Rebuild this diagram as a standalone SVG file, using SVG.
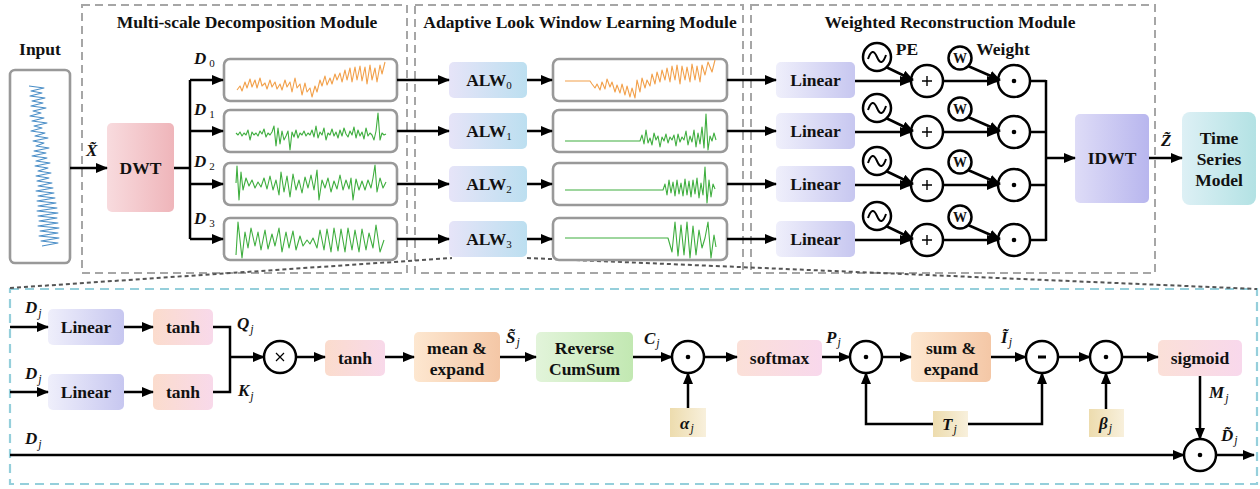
<svg xmlns="http://www.w3.org/2000/svg" width="1260" height="489" viewBox="0 0 1260 489">
<defs>
<style>
text{font-family:"Liberation Serif","Times New Roman",serif;fill:#111}
.b{font-weight:bold;font-size:17.5px;text-anchor:middle}
.t{font-weight:bold;font-size:17.5px;text-anchor:middle}
.lb{font-weight:bold;font-style:italic;font-size:17px}
.sub{font-style:italic;font-weight:normal;font-size:12px}
.sn{font-weight:normal;font-style:normal;font-size:11px}
.ln{fill:none;stroke:#000;stroke-width:2.5}
.ar{fill:none;stroke:#000;stroke-width:2.5;marker-end:url(#ah)}
.sig{fill:#fff;stroke:#999;stroke-width:2.6}
.mod{fill:none;stroke:#a6a6a6;stroke-width:2;stroke-dasharray:8 5}
.cir{fill:#fff;stroke:#000;stroke-width:2.5}
.wo{fill:none;stroke:#f2a04a;stroke-width:1.1;stroke-linejoin:round}
.wg{fill:none;stroke:#3fae3f;stroke-width:1.1;stroke-linejoin:round}
.wb{fill:none;stroke:#4a8ec7;stroke-width:1.1;stroke-linejoin:round}
</style>
<marker id="ah" markerUnits="userSpaceOnUse" markerWidth="12" markerHeight="10" refX="11" refY="5" orient="auto"><path d="M0,0 L12,5 L0,10 z" fill="#000"/></marker>
<linearGradient id="gDWT"><stop offset="0" stop-color="#f8dbde"/><stop offset="1" stop-color="#efb5ba"/></linearGradient>
<linearGradient id="gALW"><stop offset="0" stop-color="#e6e4f8"/><stop offset="1" stop-color="#bcdff0"/></linearGradient>
<linearGradient id="gLin"><stop offset="0" stop-color="#efeffb"/><stop offset="1" stop-color="#c7c7f0"/></linearGradient>
<linearGradient id="gIDWT"><stop offset="0" stop-color="#dedcf7"/><stop offset="1" stop-color="#b8b6ee"/></linearGradient>
<linearGradient id="gTSM"><stop offset="0" stop-color="#ddf0f5"/><stop offset="1" stop-color="#b3e2e4"/></linearGradient>
<linearGradient id="gTanh"><stop offset="0" stop-color="#fbdccd"/><stop offset="1" stop-color="#f8d9ea"/></linearGradient>
<linearGradient id="gMean"><stop offset="0" stop-color="#fde7d0"/><stop offset="1" stop-color="#f4c7a6"/></linearGradient>
<linearGradient id="gRCS"><stop offset="0" stop-color="#e2f4da"/><stop offset="1" stop-color="#c2e8b2"/></linearGradient>
<linearGradient id="gSoft"><stop offset="0" stop-color="#fbe0d8"/><stop offset="1" stop-color="#f8d8ec"/></linearGradient>
<linearGradient id="gBei"><stop offset="0" stop-color="#eddcae"/><stop offset="1" stop-color="#f8f0dc"/></linearGradient>
</defs>
<rect width="1260" height="489" fill="#fff"/>

<g id="modules">
<rect class="mod" x="82" y="5" width="325" height="268"/>
<rect class="mod" x="415" y="5" width="328" height="268"/>
<rect class="mod" x="751" y="5" width="404" height="268"/>
<text class="t" x="247" y="28">Multi-scale Decomposition Module</text>
<text class="t" x="580" y="28">Adaptive Look Window Learning Module</text>
<text class="t" x="950" y="28">Weighted Reconstruction Module</text>
<rect x="10" y="289" width="1247" height="195" fill="none" stroke="#95cfdb" stroke-width="2.2" stroke-dasharray="9 6"/>
<path d="M10,288 L452,258 M527,258 L1257,289" fill="none" stroke="#555" stroke-width="2" stroke-dasharray="4 3"/>
</g>

<g id="input">
<text class="b" x="40" y="55">Input</text>
<rect class="sig" x="10" y="70" width="60" height="193" rx="5"/>
<polyline class="wb" points="29,86 44,88 31,91 42,93 30,96 45,98 32,101 43,103 31,106 46,108 33,111 41,113 30,116 44,118 32,121 47,123 34,126 42,128 31,131 45,133 35,136 48,138 33,141 44,143 36,146 49,148 34,151 46,153 32,156 47,158 36,161 50,163 35,166 48,168 38,171 51,173 36,176 49,178 37,181 52,183 38,186 53,188 36,191 54,193 38,196 55,198 37,201 56,203 38,206 57,208 37,211 58,213 38,216 57,218 39,221 58,223 38,226 59,228 40,231 58,233 39,236 59,238 41,241 58,243 42,246"/>
</g>

<g id="dwt">
<rect x="107" y="123" width="67" height="89" rx="5" fill="url(#gDWT)"/>
<text class="b" x="140.5" y="174">DWT</text>
</g>

<g id="decomp-signals">
<rect class="sig" x="224" y="59" width="173" height="42" rx="6"/>
<rect class="sig" x="224" y="110" width="173" height="42" rx="6"/>
<rect class="sig" x="224" y="163" width="173" height="42" rx="6"/>
<rect class="sig" x="224" y="218" width="173" height="42" rx="6"/>
<polyline class="wo" points="237,90 240,86 242,91 245,82 247,88 250,79 252,87 255,80 257,88 260,78 262,86 265,83 267,89 270,80 272,87 275,82 277,89 280,84 282,90 285,80 287,87 290,82 292,92 295,78 297,88 300,84 302,95 305,83 307,92 310,88 312,97 315,86 317,92 320,80 322,86 325,76 327,85 330,78 332,84 335,74 337,80 340,73 342,82 345,70 347,80 350,68 352,82 355,67 357,80 360,66 362,81 365,67 367,84 370,65 372,80 375,68 377,82 380,65 382,74 385,62"/>
<polyline class="wg" points="236,133 238,135 240,132 242,136 244,133 246,135 248,130 250,140 252,132 254,135 256,133 258,136 260,131 262,134 264,129 266,137 268,133 270,135 272,132 274,126 276,146 278,128 280,144 282,131 284,140 286,136 288,131 290,150 292,132 294,137 296,130 298,138 300,133 302,135 304,131 306,136 308,133 310,135 312,130 314,137 316,126 318,138 320,132 322,135 324,128 326,140 328,133 330,135 332,129 334,136 336,132 338,138 340,130 342,136 344,128 346,134 348,137 350,131 352,135 354,127 356,138 358,130 360,136 362,132 364,139 366,128 368,136 370,133 372,135 374,140 376,131 378,113 380,140 382,133 384,135 386,134"/>
<polyline class="wg" points="236,183 237,166 239,200 241,172 243,190 246,178 249,186 252,180 255,188 258,182 261,187 264,178 267,189 270,176 273,190 276,180 279,195 281,172 284,192 287,176 290,197 293,174 296,190 299,180 302,193 305,177 308,188 311,175 314,190 317,170 319,200 322,180 325,188 328,178 331,192 334,181 337,189 340,175 343,190 346,180 349,189 351,178 353,200 356,179 359,190 362,181 365,190 368,180 371,188 373,178 375,165 377,192 380,178 383,188 386,182"/>
<polyline class="wg" points="236,255 238,222 242,258 245,232 248,248 251,228 255,246 258,232 261,250 265,230 268,249 272,234 275,246 279,228 282,252 286,232 289,248 293,231 296,250 300,236 303,246 307,240 310,244 313,238 317,248 320,230 324,250 327,229 331,252 334,228 338,251 341,229 345,252 348,228 352,250 355,230 359,252 362,229 366,250 369,233 373,248 376,225 380,252 384,240"/>
<text class="lb" x="194" y="64">D<tspan class="sn" dx="3" dy="3">0</tspan></text>
<text class="lb" x="194" y="115">D<tspan class="sn" dx="3" dy="3">1</tspan></text>
<text class="lb" x="194" y="167">D<tspan class="sn" dx="3" dy="3">2</tspan></text>
<text class="lb" x="194" y="224">D<tspan class="sn" dx="3" dy="3">3</tspan></text>
</g>

<g id="alw">
<rect x="449" y="62" width="78" height="36" rx="5" fill="url(#gALW)"/>
<rect x="449" y="113" width="78" height="36" rx="5" fill="url(#gALW)"/>
<rect x="449" y="166" width="78" height="36" rx="5" fill="url(#gALW)"/>
<rect x="449" y="221" width="78" height="36" rx="5" fill="url(#gALW)"/>
<text class="b" x="489" y="86">ALW<tspan class="sn" dy="3">0</tspan></text>
<text class="b" x="489" y="137">ALW<tspan class="sn" dy="3">1</tspan></text>
<text class="b" x="489" y="190">ALW<tspan class="sn" dy="3">2</tspan></text>
<text class="b" x="489" y="245">ALW<tspan class="sn" dy="3">3</tspan></text>
</g>

<g id="windowed-signals">
<rect class="sig" x="553" y="59" width="174" height="42" rx="6"/>
<rect class="sig" x="553" y="110" width="174" height="42" rx="6"/>
<rect class="sig" x="553" y="163" width="174" height="42" rx="6"/>
<rect class="sig" x="553" y="218" width="174" height="42" rx="6"/>
<polyline class="wo" points="565,81 590,81 592,84 595,88 597,84 600,90 602,82 605,89 607,79 610,87 612,82 615,92 617,85 620,93 622,84 625,95 627,86 630,97 632,88 635,98 637,80 640,92 642,78 645,88 647,80 650,86 652,74 655,84 657,72 660,82 662,70 665,80 667,68 670,82 672,66 675,80 677,65 680,84 682,66 685,80 687,67 690,82 692,64 695,80 697,66 700,82 702,65 705,75 708,62 712,72 715,60"/>
<polyline class="wg" points="565,141 640,141 642,135 644,144 646,130 648,143 650,138 652,145 654,133 656,140 658,136 660,147 662,137 664,141 666,134 668,143 670,137 672,140 674,135 676,146 678,134 680,142 682,137 684,140 686,131 688,145 690,136 692,142 694,130 696,147 698,133 700,144 702,127 704,148 706,114 708,150 710,136 712,141 714,133 716,140"/>
<polyline class="wg" points="565,190 663,190 665,184 667,195 669,180 671,193 673,182 675,196 677,180 679,194 681,183 683,196 685,179 687,195 689,181 691,197 693,180 695,194 697,178 699,198 701,183 703,195 705,167 707,203 709,180 711,197 713,184 715,189"/>
<polyline class="wg" points="565,238 668,238 672,252 675,222 678,256 681,225 684,255 687,222 690,258 693,226 696,255 699,230 702,248 705,238 708,222 711,258 714,235 716,247"/>
</g>

<g id="linear-top">
<rect x="776" y="62" width="79" height="36" rx="5" fill="url(#gLin)"/>
<rect x="776" y="113" width="79" height="36" rx="5" fill="url(#gLin)"/>
<rect x="776" y="166" width="79" height="36" rx="5" fill="url(#gLin)"/>
<rect x="776" y="221" width="79" height="36" rx="5" fill="url(#gLin)"/>
<text class="b" x="815.5" y="86">Linear</text>
<text class="b" x="815.5" y="137">Linear</text>
<text class="b" x="815.5" y="190">Linear</text>
<text class="b" x="815.5" y="245">Linear</text>
</g>

<g id="pe">
<text class="b" x="907" y="55">PE</text>
<circle class="cir" cx="877" cy="57" r="14"/>
<circle class="cir" cx="877" cy="108" r="14"/>
<circle class="cir" cx="877" cy="161" r="14"/>
<circle class="cir" cx="877" cy="216" r="14"/>
<path d="M868,59 c3,-9 6,-9 9,-2 s6,7 9,-2 M868,110 c3,-9 6,-9 9,-2 s6,7 9,-2 M868,163 c3,-9 6,-9 9,-2 s6,7 9,-2 M868,218 c3,-9 6,-9 9,-2 s6,7 9,-2" fill="none" stroke="#000" stroke-width="2"/>
</g>

<g id="add">
<circle class="cir" cx="927" cy="81" r="16"/>
<circle class="cir" cx="927" cy="132" r="16"/>
<circle class="cir" cx="927" cy="185" r="16"/>
<circle class="cir" cx="927" cy="240" r="16"/>
<path d="M922,81 h10 M927,76 v10 M922,132 h10 M927,127 v10 M922,185 h10 M927,180 v10 M922,240 h10 M927,235 v10" stroke="#000" stroke-width="1.4"/>
</g>

<g id="weight">
<text class="b" x="1003" y="55">Weight</text>
<circle class="cir" cx="960" cy="58" r="11.5"/>
<circle class="cir" cx="960" cy="109" r="11.5"/>
<circle class="cir" cx="960" cy="162" r="11.5"/>
<circle class="cir" cx="960" cy="217" r="11.5"/>
<text class="b" x="960" y="63" style="font-size:14px">W</text>
<text class="b" x="960" y="114" style="font-size:14px">W</text>
<text class="b" x="960" y="167" style="font-size:14px">W</text>
<text class="b" x="960" y="222" style="font-size:14px">W</text>
</g>

<g id="mul">
<circle class="cir" cx="1014" cy="81" r="16"/>
<circle class="cir" cx="1014" cy="132" r="16"/>
<circle class="cir" cx="1014" cy="185" r="16"/>
<circle class="cir" cx="1014" cy="240" r="16"/>
<circle cx="1014" cy="81" r="2.3"/>
<circle cx="1014" cy="132" r="2.3"/>
<circle cx="1014" cy="185" r="2.3"/>
<circle cx="1014" cy="240" r="2.3"/>
</g>

<g id="idwt">
<rect x="1075" y="114" width="74" height="89" rx="5" fill="url(#gIDWT)"/>
<text class="b" x="1112" y="164">IDWT</text>
</g>

<g id="tsm">
<rect x="1182" y="112" width="74" height="93" rx="8" fill="url(#gTSM)"/>
<text class="b" x="1219" y="144">Time</text>
<text class="b" x="1219" y="165">Series</text>
<text class="b" x="1219" y="186">Model</text>
</g>

<g id="top-labels">
<text class="lb" x="86" y="156">X̃</text>
<text class="lb" x="1161" y="146">Z̃</text>
</g>

<g id="bottom-nodes">
<rect x="48" y="309" width="76" height="36" rx="5" fill="url(#gLin)"/>
<text class="b" x="86" y="333">Linear</text>
<rect x="48" y="374" width="76" height="36" rx="5" fill="url(#gLin)"/>
<text class="b" x="86" y="398">Linear</text>
<rect x="153" y="309" width="60" height="36" rx="5" fill="url(#gTanh)"/>
<text class="b" x="183" y="333">tanh</text>
<rect x="153" y="374" width="60" height="36" rx="5" fill="url(#gTanh)"/>
<text class="b" x="183" y="398">tanh</text>
<circle class="cir" cx="280" cy="357" r="16"/>
<path d="M276,353 l8,8 M284,353 l-8,8" stroke="#000" stroke-width="1.2"/>
<rect x="325" y="340" width="60" height="36" rx="5" fill="url(#gTanh)"/>
<text class="b" x="355" y="364">tanh</text>
<rect x="414" y="332" width="86" height="50" rx="5" fill="url(#gMean)"/>
<text class="b" x="457" y="354">mean &amp;</text>
<text class="b" x="457" y="375">expand</text>
<rect x="536" y="332" width="97" height="50" rx="5" fill="url(#gRCS)"/>
<text class="b" x="584.5" y="354">Reverse</text>
<text class="b" x="584.5" y="375">CumSum</text>
<circle class="cir" cx="688" cy="357" r="16"/>
<circle cx="688" cy="357" r="2.3"/>
<rect x="670" y="408" width="36" height="29" fill="url(#gBei)"/>
<rect x="737" y="340" width="85" height="36" rx="5" fill="url(#gSoft)"/>
<text class="b" x="779.5" y="364">softmax</text>
<circle class="cir" cx="866" cy="357" r="16"/>
<circle cx="866" cy="357" r="2.3"/>
<rect x="911" y="332" width="80" height="50" rx="5" fill="url(#gMean)"/>
<text class="b" x="951" y="354">sum &amp;</text>
<text class="b" x="951" y="375">expand</text>
<circle class="cir" cx="1042" cy="357" r="16"/>
<path d="M1038,357 h8" stroke="#000" stroke-width="3"/>
<rect x="933" y="411" width="35" height="26" fill="url(#gBei)"/>
<circle class="cir" cx="1106" cy="357" r="16"/>
<circle cx="1106" cy="357" r="2.3"/>
<rect x="1089" y="409" width="35" height="28" fill="url(#gBei)"/>
<rect x="1158" y="340" width="84" height="36" rx="5" fill="url(#gSoft)"/>
<text class="b" x="1200" y="364">sigmoid</text>
<circle class="cir" cx="1200" cy="455" r="16"/>
<circle cx="1200" cy="455" r="2.3"/>
</g>

<g id="bottom-labels">
<text class="lb" x="25" y="313">D<tspan class="sub" dx="1" dy="4">j</tspan></text>
<text class="lb" x="25" y="379">D<tspan class="sub" dx="1" dy="4">j</tspan></text>
<text class="lb" x="25" y="444">D<tspan class="sub" dx="1" dy="4">j</tspan></text>
<text class="lb" x="237" y="329">Q<tspan class="sub" dx="1" dy="4">j</tspan></text>
<text class="lb" x="238" y="396">K<tspan class="sub" dx="1" dy="4">j</tspan></text>
<text class="lb" x="506" y="343">S̃<tspan class="sub" dx="1" dy="3">j</tspan></text>
<text class="lb" x="644" y="344">C<tspan class="sub" dx="1" dy="3">j</tspan></text>
<text class="lb" x="680" y="429">α<tspan class="sub" dx="1" dy="3">j</tspan></text>
<text class="lb" x="826" y="343">P<tspan class="sub" dx="1" dy="3">j</tspan></text>
<text class="lb" x="1001" y="343">Ĩ<tspan class="sub" dx="1" dy="3">j</tspan></text>
<text class="lb" x="942" y="430">T<tspan class="sub" dx="1" dy="3">j</tspan></text>
<text class="lb" x="1099" y="429">β<tspan class="sub" dx="1" dy="3">j</tspan></text>
<text class="lb" x="1209" y="398">M<tspan class="sub" dx="1" dy="4">j</tspan></text>
<text class="lb" x="1221" y="441">D̃<tspan class="sub" dx="1" dy="3">j</tspan></text>
</g>

<g id="connectors">
<path class="ar" d="M70,168 H107"/>
<path class="ln" d="M174,168 H190 M190,80 V239"/>
<path class="ar" d="M190,80 H223"/>
<path class="ar" d="M190,131 H223"/>
<path class="ar" d="M190,184 H223"/>
<path class="ar" d="M190,239 H223"/>
<path class="ar" d="M397,80 H449"/>
<path class="ar" d="M397,131 H449"/>
<path class="ar" d="M397,184 H449"/>
<path class="ar" d="M397,239 H449"/>
<path class="ar" d="M527,80 H552"/>
<path class="ar" d="M527,131 H552"/>
<path class="ar" d="M527,184 H552"/>
<path class="ar" d="M527,239 H552"/>
<path class="ar" d="M727,80 H776"/>
<path class="ar" d="M727,131 H776"/>
<path class="ar" d="M727,184 H776"/>
<path class="ar" d="M727,239 H776"/>
<path class="ar" d="M855,81 H911"/>
<path class="ar" d="M855,132 H911"/>
<path class="ar" d="M855,185 H911"/>
<path class="ar" d="M855,240 H911"/>
<path class="ar" d="M886,67 L913,80"/>
<path class="ar" d="M886,118 L913,131"/>
<path class="ar" d="M886,171 L913,184"/>
<path class="ar" d="M886,226 L913,239"/>
<path class="ar" d="M943,81 H998"/>
<path class="ar" d="M943,132 H998"/>
<path class="ar" d="M943,185 H998"/>
<path class="ar" d="M943,240 H998"/>
<path class="ar" d="M968,66 L1000,80"/>
<path class="ar" d="M968,117 L1000,131"/>
<path class="ar" d="M968,170 L1000,184"/>
<path class="ar" d="M968,225 L1000,239"/>
<path class="ln" d="M1030,81 H1046 M1030,132 H1046 M1030,185 H1046 M1030,240 H1046 M1046,80 V241"/>
<path class="ar" d="M1046,158 H1075"/>
<path class="ar" d="M1149,158 H1182"/>
<path class="ar" d="M10,327 H48"/>
<path class="ar" d="M10,392 H48"/>
<path class="ar" d="M124,327 H153"/>
<path class="ar" d="M124,392 H153"/>
<path class="ln" d="M213,327 H230 V392 H213"/>
<path class="ar" d="M230,357 H264"/>
<path class="ar" d="M296,357 H325"/>
<path class="ar" d="M385,357 H414"/>
<path class="ar" d="M500,357 H536"/>
<path class="ar" d="M633,357 H672"/>
<path class="ar" d="M688,408 V373"/>
<path class="ar" d="M704,357 H737"/>
<path class="ar" d="M822,357 H850"/>
<path class="ar" d="M882,357 H911"/>
<path class="ar" d="M991,357 H1026"/>
<path class="ar" d="M933,424 H866 V373"/>
<path class="ar" d="M968,424 H1042 V373"/>
<path class="ar" d="M1058,357 H1090"/>
<path class="ar" d="M1106,409 V373"/>
<path class="ar" d="M1122,357 H1158"/>
<path class="ar" d="M1200,376 V439"/>
<path class="ar" d="M10,455 H1184"/>
<path class="ar" d="M1216,455 H1254"/>
</g>
</svg>
